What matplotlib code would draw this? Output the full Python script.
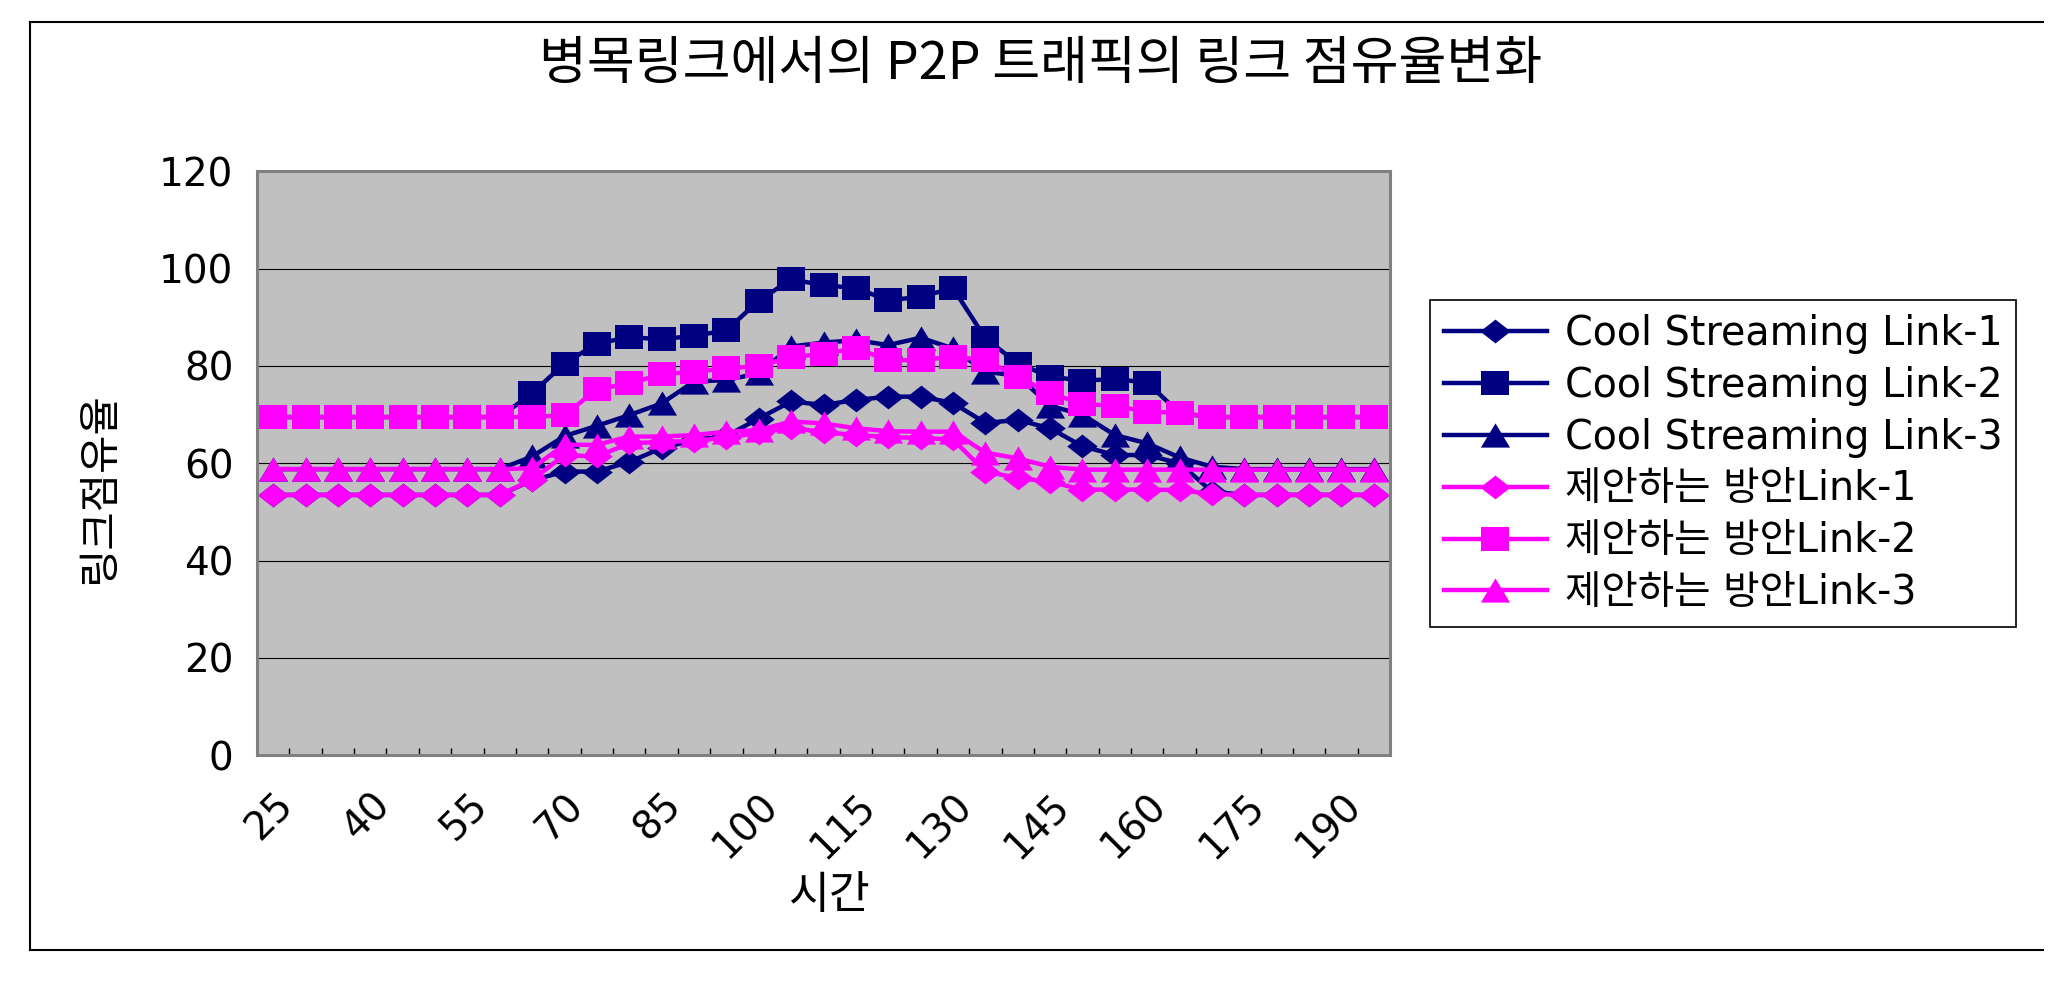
#p2p_link_usage.py

#line chart of link usage over time, cool streaming vs proposed method

import matplotlib
matplotlib.use("Agg")
import matplotlib.pyplot as plt
from matplotlib.lines import Line2D
import numpy as np

plt.rcParams['font.family'] = ['DejaVu Sans', 'Noto Sans CJK KR']

times = list(range(25, 200, 5))  # 25 .. 195

cool_1 = [53.5, 53.5, 53.5, 53.5, 53.5, 53.5, 53.5, 53.5, 56.5, 58.3,
          58.3, 60.3, 63.1, 64.8, 65.6, 69.2, 72.7, 72.0, 73.0, 73.7,
          73.7, 72.4, 68.3, 68.9, 67.2, 63.5, 61.7, 61.7, 60.0, 54.2,
          53.5, 53.5, 53.5, 53.5, 53.5]
cool_2 = [69.5, 69.5, 69.5, 69.5, 69.5, 69.5, 69.5, 69.5, 74.4, 80.5,
          84.6, 85.9, 85.5, 86.2, 87.3, 93.4, 97.8, 96.6, 96.0, 93.5,
          94.2, 96.0, 85.7, 80.5, 77.8, 77.0, 77.3, 76.6, 70.3, 69.5,
          69.5, 69.5, 69.5, 69.5, 69.5]
cool_3 = [58.8, 58.8, 58.8, 58.8, 58.8, 58.8, 58.8, 58.8, 61.4, 65.6,
          67.7, 69.9, 72.3, 76.8, 77.1, 78.5, 84.0, 84.8, 85.3, 84.3,
          85.8, 83.6, 78.8, 78.0, 71.8, 70.0, 65.8, 64.1, 61.2, 59.3,
          58.8, 58.8, 58.8, 58.8, 58.8]
prop_1 = [53.5, 53.5, 53.5, 53.5, 53.5, 53.5, 53.5, 53.5, 56.6, 61.7,
          61.4, 64.1, 64.4, 64.6, 65.3, 66.2, 67.3, 66.4, 65.8, 65.4,
          65.2, 64.9, 58.3, 57.0, 56.2, 54.6, 54.6, 54.6, 54.5, 53.7,
          53.5, 53.5, 53.5, 53.5, 53.5]
prop_2 = [69.5, 69.5, 69.5, 69.5, 69.5, 69.5, 69.5, 69.5, 69.5, 69.9,
          75.2, 76.4, 78.3, 78.8, 79.5, 80.0, 81.8, 82.5, 83.6, 81.2,
          81.2, 81.9, 81.2, 77.8, 74.4, 72.2, 71.8, 70.6, 70.4, 69.5,
          69.5, 69.5, 69.5, 69.5, 69.5]
prop_3 = [58.8, 58.8, 58.8, 58.8, 58.8, 58.8, 58.8, 58.8, 59.0, 63.8,
          63.8, 65.5, 65.5, 65.8, 66.5, 66.8, 68.6, 68.2, 67.2, 66.6,
          66.5, 66.5, 62.2, 61.0, 59.3, 58.7, 58.7, 58.7, 58.7, 58.7,
          58.7, 58.7, 58.7, 58.7, 58.7]

labels = ['Cool Streaming Link-1', 'Cool Streaming Link-2', 'Cool Streaming Link-3',
          '제안하는 방안Link-1', '제안하는 방안Link-2', '제안하는 방안Link-3']

# excel-like markers, a bit wider than tall
diamond = [(0, -0.78), (1, 0), (0, 0.78), (-1, 0)]
square = [(-1, -0.81), (1, -0.81), (1, 0.81), (-1, 0.81)]
triangle = [(-1, -0.83), (1, -0.83), (0, 0.83)]

navy = '#000080'
pink = '#FF00FF'

series = [(cool_1, navy, diamond, 22), (cool_2, navy, square, 20.5),
          (cool_3, navy, triangle, 21), (prop_1, pink, diamond, 22),
          (prop_2, pink, square, 20.5), (prop_3, pink, triangle, 21)]

W, H = 2066, 981
fig = plt.figure(figsize=(W/100, H/100), dpi=100)
ax = fig.add_axes([257/W, 1-755.3/H, (1390-257)/W, (755.3-171.3)/H])
ax.set_facecolor('#C0C0C0')

x = np.arange(len(times))
for (vals, col, mk, ms), lab in zip(series, labels):
    ax.plot(x, vals, color=col, lw=3.2, marker=mk, markersize=ms,
            markeredgewidth=0, label=lab)

ax.set_xlim(-0.5, len(times)-0.5)
ax.set_ylim(0, 120)
ax.set_yticks(range(0, 121, 20))
ax.yaxis.grid(True, color='black', lw=0.8)
ax.set_axisbelow(True)
ax.tick_params(axis='y', length=0, pad=17, labelsize=28)

ax.set_xticks(x[::3])
ax.set_xticklabels([str(t) for t in times[::3]], rotation=45,
                   ha='right', va='top', rotation_mode='anchor')
ax.set_xticks(np.arange(-0.5, len(times), 1), minor=True)
ax.tick_params(axis='x', which='major', length=0, pad=22, labelsize=28)
ax.tick_params(axis='x', which='minor', direction='in', length=5, width=1)

for s in ax.spines.values():
    s.set_color('#808080')
    s.set_linewidth(2.2)

ax.set_xlabel('시간', fontsize=32, family=['Noto Sans CJK KR'])
ax.xaxis.set_label_coords(0.506, -0.24)
ax.xaxis.label.set_va('center')
ax.set_ylabel('링크점유율', fontsize=30, family=['Noto Sans CJK KR'])
ax.yaxis.set_label_coords(-0.139, 0.458)
ax.yaxis.label.set_va('center')

fig.text(1041/W, 1-64/H, '병목링크에서의 P2P 트래픽의 링크 점유율변화',
         fontsize=37.5, family=['Noto Sans CJK KR', 'DejaVu Sans'],
         ha='center', va='center')

leg = fig.legend(loc='upper left', bbox_to_anchor=(1430/W, 1-300/H),
                 borderaxespad=0, fontsize=28.5, fancybox=False, shadow=False,
                 edgecolor='black', framealpha=1, borderpad=0.35,
                 labelspacing=0.3, handlelength=2.6, handletextpad=0.45)
leg.get_frame().set_linewidth(1.2)

# outer chart frame (right side is cut off in the original)
fx0, fx1 = 30/W, 2043/W
fy0, fy1 = 1-950/H, 1-22/H
for xs, ys in [((fx0, fx1), (fy1, fy1)), ((fx0, fx1), (fy0, fy0)), ((fx0, fx0), (fy0, fy1))]:
    fig.add_artist(Line2D(xs, ys, color='black', lw=1.5, transform=fig.transFigure))

fig.savefig('out.png', dpi=100, facecolor='white')
